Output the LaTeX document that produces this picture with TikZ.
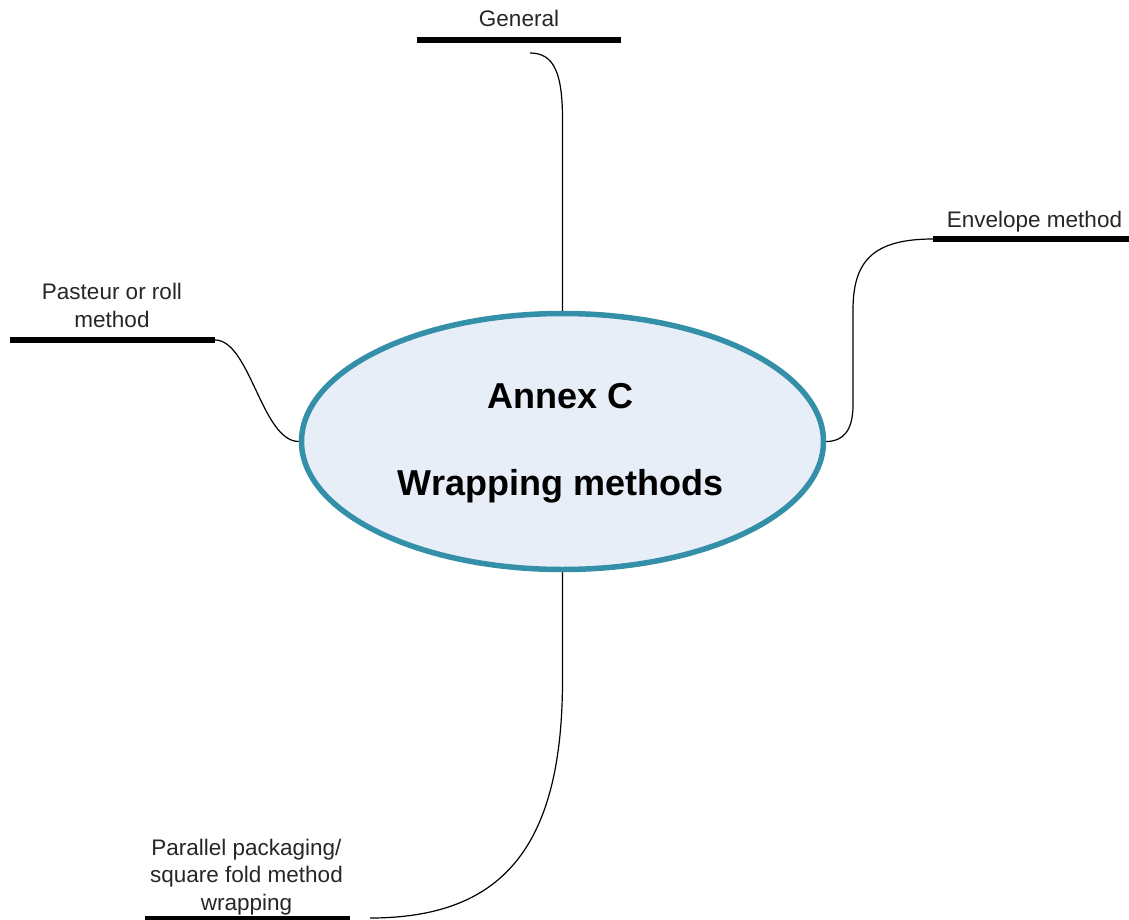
\documentclass[tikz,border=0pt]{standalone}
\usepackage{fontspec}
\setmainfont{Liberation Sans}
\usetikzlibrary{shapes.geometric}
\definecolor{rimteal}{RGB}{52,143,168}
\definecolor{paleblue}{RGB}{232,238,247}
\begin{document}
\begin{tikzpicture}[x=1pt,y=-1pt,
  hubshape/.style={ellipse, draw=rimteal, line width=5.5pt, fill=paleblue,
    minimum width=522pt, minimum height=256pt, inner sep=0pt},
  title/.style={font=\fontsize{36}{43}\selectfont\bfseries, anchor=base, inner sep=0pt},
  label/.style={font=\fontsize{22.5}{27.5}\selectfont, text=black!85, align=center, anchor=base, inner sep=0pt},
  bar/.style={line width=5.5pt, black},
  link/.style={line width=1.2pt, black}]
\useasboundingbox (0,0) rectangle (1129,920);

\node[hubshape] (hub) at (562.5,441.5) {};
\node[title] (annex) at (560.5,408) {Annex C};
\node[title] (wrap) at (560.5,495) {Wrapping methods};

% General
\node[label] (general) at (519,27) {General};
\coordinate (genL) at (417,40);
\coordinate (genR) at (621,40);
\coordinate (genfoot) at (530,53);
\draw[bar] (genL) -- (genR);

% Envelope method
\node[label] (envelope) at (1034.5,227) {Envelope method};
\coordinate (envL) at (933,239);
\coordinate (envR) at (1129,239);
\draw[bar] (envL) -- (envR);

% Pasteur
\node[label] (pasteur) at (112,327) {Pasteur or roll\\method};
\coordinate (pasL) at (10,340);
\coordinate (pasR) at (215,340);
\draw[bar] (pasL) -- (pasR);

% Parallel packaging
\node[label] (parallel) at (246.5,910) {Parallel packaging/\\square fold method\\wrapping};
\coordinate (parL) at (145,919);
\coordinate (parR) at (350,919);
\coordinate (parfoot) at (370,918);
\draw[bar] (parL) -- (parR);

% connectors
\draw[link] (genfoot) .. controls (555,53) and (562.5,75) .. (562.5,120) -- (hub.north);
\draw[link] (envL) .. controls (872,239) and (853,262) .. (853,310) -- (853,405)
  .. controls (853,432) and (842,441.5) .. (hub.east);
\draw[link] (pasR) .. controls (250,340) and (262,441.5) .. (hub.west);
\draw[link] (hub.south) -- (562.5,680) .. controls (562.5,850) and (500,918) .. (parfoot);
\end{tikzpicture}
\end{document}
